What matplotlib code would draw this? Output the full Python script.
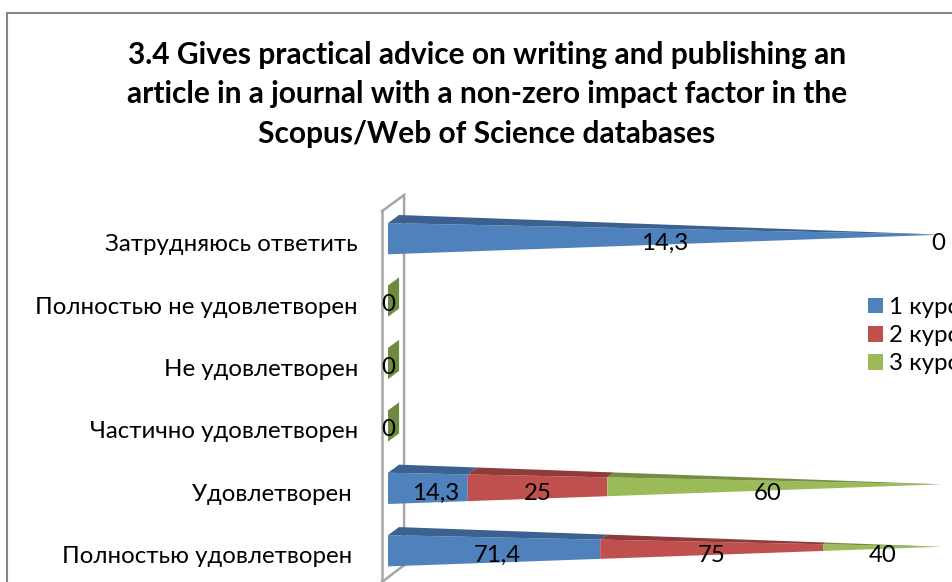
import matplotlib
matplotlib.use('Agg')
import matplotlib.pyplot as plt
from matplotlib.patches import Patch
from matplotlib.lines import Line2D
from matplotlib.transforms import ScaledTranslation

plt.rcParams['font.family'] = ['Lato', 'Open Sans', 'DejaVu Sans']

title = ('3.4 Gives practical advice on writing and publishing an\n'
         'article in a journal with a non-zero impact factor in the\n'
         'Scopus/Web of Science databases')

categories = ['Затрудняюсь ответить', 'Полностью не удовлетворен', 'Не удовлетворен',
              'Частично удовлетворен', 'Удовлетворен ', 'Полностью удовлетворен ']
series_names = ['1 курс', '2 курс', '3 курс']
course1 = [14.3, 0, 0, 0, 14.3, 71.4]
course2 = [0, 0, 0, 0, 25, 75]
course3 = [0, 0, 0, 0, 60, 40]

front_colors = ['#4f81bd', '#c0504d', '#9bbb59']
top_colors = ['#3b6190', '#8f3b39', '#748d43']
zero_color = '#6f8a3e'

W, H = 953, 582
# depth of the 3d look, in percent and in rows
DX = 2.0
DY = 0.13
HALF = 0.25
FS = 17.3
# labels sit a bit off the middle of a segment because of the perspective
nudge = {(4, 0): 1.4, (4, 2): -1.3, (5, 0): 0.6}

fig = plt.figure(figsize=(W / 100, H / 100), dpi=100)
ax = fig.add_axes([388 / W, 0, (942 - 388) / W, (582 - 207.5) / H])
ax.set_xlim(0, 100)
ax.set_ylim(5.5, -0.5)
for s in ax.spines.values():
    s.set_visible(False)
ax.set_xticks([])
ax.set_yticks(range(len(categories)))
ax.set_yticklabels(categories, fontsize=FS)
ax.tick_params(axis='y', length=0, pad=21.6)
shift = ScaledTranslation(0, -4 / 100, fig.dpi_scale_trans)
for lbl in ax.get_yticklabels():
    lbl.set_transform(lbl.get_transform() + shift)


def lerp(a, b, t):
    return a + (b - a) * t


def draw_segment(row, f0, f1, front, top):
    apex = (100, row - DY / 2)
    up, low = row - HALF, row + HALF
    xs0, xs1 = lerp(0, 100, f0), lerp(0, 100, f1)
    fy = [lerp(up, apex[1], f0), lerp(up, apex[1], f1),
          lerp(low, apex[1], f1), lerp(low, apex[1], f0)]
    ax.fill([xs0, xs1, xs1, xs0], fy, color=front, lw=0, clip_on=False, zorder=3)
    bx0, bx1 = lerp(DX, 100, f0), lerp(DX, 100, f1)
    by0, by1 = lerp(up - DY, apex[1], f0), lerp(up - DY, apex[1], f1)
    ax.fill([xs0, xs1, bx1, bx0], [fy[0], fy[1], by1, by0], color=top, lw=0,
            clip_on=False, zorder=3)


# back wall of the chart
wall = dict(color='#a6a6a6', lw=1.8, clip_on=False, zorder=1, solid_joinstyle='miter')
ax.plot([-1.1, -1.1], [-0.44, 5.6], **wall)
ax.plot([-1.1, 2.9, 2.9], [-0.44, -0.70, 5.23], **wall)
ax.plot([2.9, -1.1], [5.23, 5.5], **wall)

for row in range(len(categories)):
    vals = [course1[row], course2[row], course3[row]]
    total = sum(vals)
    if total == 0:
        ax.fill([0, DX, DX, 0],
                [row - HALF, row - HALF - DY, row + HALF - DY, row + HALF],
                color=zero_color, lw=0, clip_on=False, zorder=3)
        ax.text(0, row + 0.06, '0', ha='center', va='center', fontsize=FS, zorder=5)
        continue
    done = 0
    for j, v in enumerate(vals):
        f0, f1 = done / total, (done + v) / total
        if v > 0:
            draw_segment(row, f0, f1, front_colors[j], top_colors[j])
        done += v
    done = 0
    zero_drawn = False
    for j, v in enumerate(vals):
        mid = (done + v / 2) / total * 100 + nudge.get((row, j), 0)
        done += v
        if v == 0:
            if zero_drawn:
                continue
            zero_drawn = True
            mid -= 0.7
        ax.text(mid, row + 0.08, str(v).replace('.', ','), ha='center', va='center',
                fontsize=FS, zorder=5)

handles = [Patch(color=c, lw=0) for c in front_colors]
fig.legend(handles, series_names, loc='upper left', bbox_to_anchor=(868 / W, 1 - 297 / H),
           frameon=False, fontsize=FS, handlelength=0.62, handleheight=0.62,
           handletextpad=0.27, labelspacing=0.30, borderpad=0, borderaxespad=0)

fig.text(487 / W, 1 - 94.5 / H, title, ha='center', va='center', fontsize=21.5,
         fontweight='bold', linespacing=1.48)

# outer frame, cut off on the right and at the bottom
fig.add_artist(Line2D([7.5 / W, 7.5 / W, 1], [0, 1 - 13 / H, 1 - 13 / H],
                      color='#868686', lw=1.5, solid_joinstyle='miter'))

fig.savefig('out.png', dpi=100)
